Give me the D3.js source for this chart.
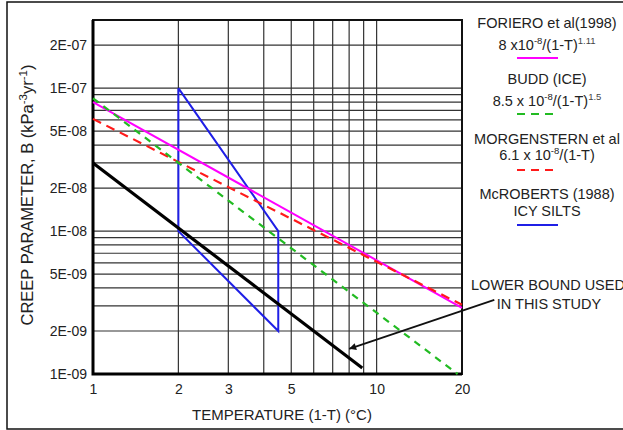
<!DOCTYPE html>
<html>
<head>
<meta charset="utf-8">
<script src="https://cdn.jsdelivr.net/npm/d3@7.9.0/dist/d3.min.js"></script>
<style>
  body { margin: 0; background: #fff; }
  svg { display: block; font-family: "Liberation Sans", Arial, sans-serif; }
</style>
</head>
<body>
<svg id="chart" width="623" height="430"></svg>
<script>
// ---------- Data ----------
const xTickValues = [1, 2, 3, 5, 10, 20];
const yTickValues = [2e-7, 1e-7, 5e-8, 2e-8, 1e-8, 5e-9, 2e-9, 1e-9];
const yTickLabels = ["2E-07", "1E-07", "5E-08", "2E-08", "1E-08", "5E-09", "2E-09", "1E-09"];

// each series: [temperature (1-T), creep parameter B]
const foriero = [[1, 8e-8], [20, 2.9e-9]];
const budd = [[1, 8.5e-8], [19.3, 1e-9]];
const morgenstern = [[1, 6.1e-8], [20, 3.05e-9]];
const mcroberts = [[2, 1e-7], [2, 1e-8], [4.5, 2e-9], [4.5, 1e-8], [2, 1e-7]];
const lowerBound = [[1, 3e-8], [8.9, 1.1e-9]];

// annotation arrow (tail near the text, tip on the lower bound line)
const arrowFrom = [26, 3.3e-9];
const arrowTo = [8, 1.5e-9];

// ---------- Layout ----------
const svg = d3.select("#chart");
const plot = { left: 93, right: 462, top: 20, bottom: 374 };

const x = d3.scaleLog().domain([1, 20]).range([plot.left, plot.right]);
const y = d3.scaleLog().domain([1e-9, 3e-7]).range([plot.bottom, plot.top]);

// outer figure frame
svg.append("rect")
  .attr("x", 7).attr("y", 2)
  .attr("width", 700).attr("height", 427)
  .attr("fill", "none").attr("stroke", "#111").attr("stroke-width", 1.5);

// ---------- Grid ----------
const xGrid = x.ticks().filter((d) => d > 1 && d <= 10);
const yGrid = y.ticks().filter((d) => d > 1e-9 && d < 3e-7);

svg.append("g")
  .selectAll("line")
  .data(xGrid)
  .join("line")
  .attr("x1", (d) => x(d)).attr("x2", (d) => x(d))
  .attr("y1", plot.top).attr("y2", plot.bottom)
  .attr("stroke", "#333").attr("stroke-width", 1.2);

svg.append("g")
  .selectAll("line")
  .data(yGrid)
  .join("line")
  .attr("x1", plot.left).attr("x2", plot.right)
  .attr("y1", (d) => y(d)).attr("y2", (d) => y(d))
  .attr("stroke", "#333").attr("stroke-width", 1.2);

// ---------- Axes ----------
const xAxis = svg.append("g")
  .attr("transform", `translate(0,${plot.bottom})`)
  .call(d3.axisBottom(x).tickValues(xTickValues).tickFormat(d3.format("d")).tickSize(0).tickPadding(10));

const yAxis = svg.append("g")
  .attr("transform", `translate(${plot.left},0)`)
  .call(d3.axisLeft(y).tickValues(yTickValues)
    .tickFormat((d, i) => yTickLabels[i]).tickSize(0).tickPadding(6));

[xAxis, yAxis].forEach((g) => {
  g.select(".domain").remove();
  g.selectAll("text")
    .attr("fill", "#222")
    .style("font-size", "14px")
    .style("font-family", "'Liberation Sans', Arial, sans-serif");
});

// plot border
svg.append("rect")
  .attr("x", plot.left).attr("y", plot.top)
  .attr("width", plot.right - plot.left).attr("height", plot.bottom - plot.top)
  .attr("fill", "none").attr("stroke", "#111").attr("stroke-width", 2);
svg.append("path")
  .attr("d", `M${plot.left},${plot.top}V${plot.bottom}H${plot.right}`)
  .attr("fill", "none").attr("stroke", "#000").attr("stroke-width", 3);

// ---------- Series ----------
const line = d3.line().x((d) => x(d[0])).y((d) => y(d[1]));

const series = [
  { data: mcroberts, color: "#1f1fe6", width: 2, dash: null },
  { data: foriero, color: "#ff00ff", width: 2, dash: null },
  { data: morgenstern, color: "#ff1a1a", width: 2.2, dash: "9,6" },
  { data: budd, color: "#22bb22", width: 2.2, dash: "7,6" },
  { data: lowerBound, color: "#000", width: 3.2, dash: null },
];

svg.append("g")
  .selectAll("path")
  .data(series)
  .join("path")
  .attr("d", (d) => line(d.data))
  .attr("fill", "none")
  .attr("stroke", (d) => d.color)
  .attr("stroke-width", (d) => d.width)
  .attr("stroke-dasharray", (d) => d.dash)
  .attr("stroke-linejoin", "miter");

// ---------- Annotation ----------
svg.append("defs").append("marker")
  .attr("id", "arrow")
  .attr("viewBox", "0 0 10 10")
  .attr("refX", 10).attr("refY", 5)
  .attr("markerWidth", 9).attr("markerHeight", 7)
  .attr("markerUnits", "userSpaceOnUse")
  .attr("orient", "auto")
  .append("path")
  .attr("d", "M0,0L10,5L0,10z")
  .attr("fill", "#111");

svg.append("line")
  .attr("x1", x(arrowFrom[0])).attr("y1", y(arrowFrom[1]))
  .attr("x2", x(arrowTo[0])).attr("y2", y(arrowTo[1]))
  .attr("stroke", "#111").attr("stroke-width", 1.8)
  .attr("marker-end", "url(#arrow)");

const note = svg.append("text")
  .attr("text-anchor", "middle")
  .attr("fill", "#222")
  .style("font-size", "14.5px");
note.append("tspan").attr("x", 548).attr("y", 290).text("LOWER BOUND USED");
note.append("tspan").attr("x", 549).attr("y", 309).text("IN THIS STUDY");

// ---------- Axis titles ----------
svg.append("text")
  .attr("x", 282).attr("y", 420)
  .attr("text-anchor", "middle")
  .attr("fill", "#222")
  .style("font-size", "15px")
  .text("TEMPERATURE (1-T) (°C)");

const yTitle = svg.append("text")
  .attr("transform", "translate(33,195) rotate(-90)")
  .attr("text-anchor", "middle")
  .attr("fill", "#222")
  .style("font-size", "16.5px");
yTitle.append("tspan").text("CREEP PARAMETER, B (kPa");
yTitle.append("tspan").attr("dy", -6).style("font-size", "11.5px").text("-3");
yTitle.append("tspan").attr("dy", 6).text("yr");
yTitle.append("tspan").attr("dy", -6).style("font-size", "11.5px").text("-1");
yTitle.append("tspan").attr("dy", 6).text(")");

// ---------- Legend ----------
const legendItems = [
  { title: "FORIERO et al(1998)", base: "8 x10", exp1: "-8", mid: "/(1-T)", exp2: "1.11",
    color: "#ff00ff", dash: null, y: 28, sub: 22, swatch: 30 },
  { title: "BUDD (ICE)", base: "8.5 x 10", exp1: "-8", mid: "/(1-T)", exp2: "1.5",
    color: "#22bb22", dash: "8,6", y: 84, sub: 22, swatch: 30 },
  { title: "MORGENSTERN et al", base: "6.1 x 10", exp1: "-8", mid: "/(1-T)", exp2: null,
    color: "#ff1a1a", dash: "8,6", y: 144, sub: 16, swatch: 26 },
  { title: "McROBERTS (1988)", base: "ICY SILTS", exp1: null, mid: null, exp2: null,
    color: "#1f1fe6", dash: null, y: 199, sub: 17, swatch: 26 },
];
const legendCx = 547;

const lg = svg.append("g").selectAll("g").data(legendItems).join("g");

lg.append("text")
  .attr("x", legendCx).attr("y", (d) => d.y)
  .attr("text-anchor", "middle").attr("fill", "#222")
  .style("font-size", "14.5px")
  .text((d) => d.title);

lg.each(function (d) {
  const t = d3.select(this).append("text")
    .attr("x", legendCx).attr("y", d.y + d.sub)
    .attr("text-anchor", "middle").attr("fill", "#222")
    .style("font-size", "14.5px");
  t.append("tspan").text(d.base);
  if (d.exp1) {
    t.append("tspan").attr("dy", -6).style("font-size", "9.5px").text(d.exp1);
    t.append("tspan").attr("dy", 6).text(d.mid);
  }
  if (d.exp2) {
    t.append("tspan").attr("dy", -6).style("font-size", "9.5px").attr("fill", "#444").text(d.exp2);
  }
  d3.select(this).append("line")
    .attr("x1", 517).attr("x2", 558)
    .attr("y1", d.y + d.swatch).attr("y2", d.y + d.swatch)
    .attr("stroke", d.color).attr("stroke-width", 2.2)
    .attr("stroke-dasharray", d.dash);
});
</script>
</body>
</html>
